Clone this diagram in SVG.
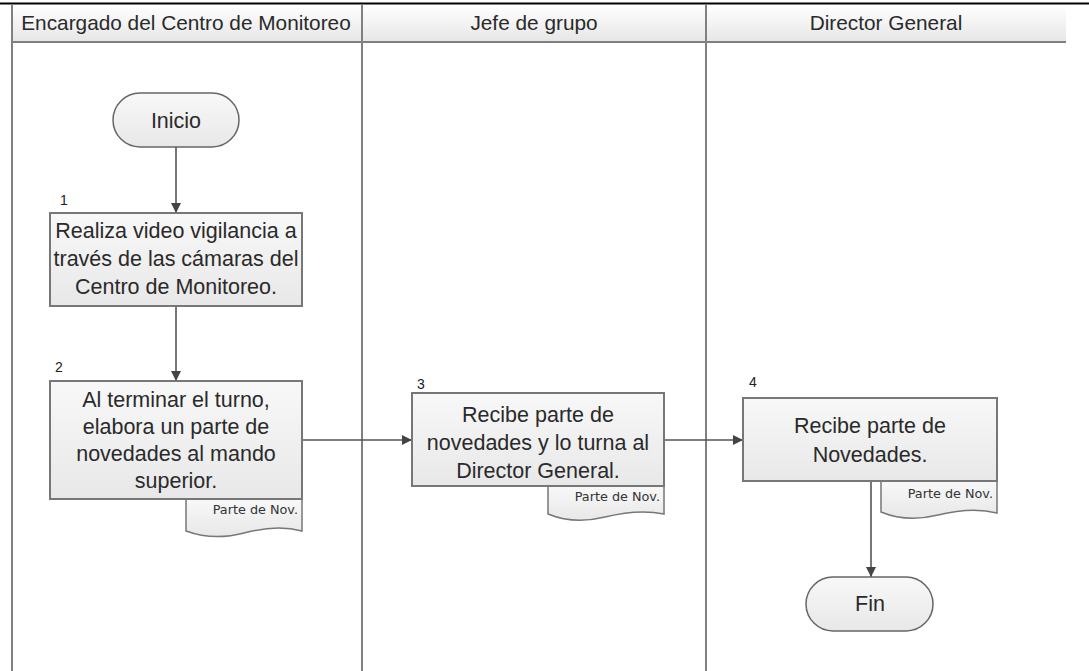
<svg xmlns="http://www.w3.org/2000/svg" width="1089" height="671" viewBox="0 0 1089 671">
<defs>
<linearGradient id="hdr" x1="0" y1="0" x2="0" y2="1"><stop offset="0" stop-color="#ffffff"/><stop offset="1" stop-color="#e6e6e6"/></linearGradient>
<linearGradient id="box" x1="0" y1="0" x2="0" y2="1"><stop offset="0" stop-color="#f8f8f8"/><stop offset="1" stop-color="#e8e8e8"/></linearGradient>
<marker id="arr" viewBox="0 0 10 10" refX="10" refY="5" markerWidth="10" markerHeight="10" markerUnits="userSpaceOnUse" orient="auto"><path d="M0,0 L10,5 L0,10 Z" fill="#444"/></marker>
</defs>
<style>
.lane{stroke:#808080;stroke-width:2;fill:none}
.hd{font-family:"Liberation Sans",Arial,sans-serif;font-size:20.8px;fill:#2a2a2a;text-anchor:middle}
.bx{fill:url(#box);stroke:#777;stroke-width:2}
.tm{fill:url(#box);stroke:#666;stroke-width:1.5}
.tx{font-family:"Liberation Sans",Arial,sans-serif;font-size:21.5px;fill:#2a2a2a;text-anchor:middle}
.num{font-family:"Liberation Sans",Arial,sans-serif;font-size:14px;fill:#222}
.doc{fill:url(#box);stroke:#777;stroke-width:1.5}
.dt{font-family:"DejaVu Sans",Verdana,sans-serif;font-size:12.8px;fill:#333;text-anchor:end}
.cn{stroke:#555;stroke-width:1.6;fill:none;marker-end:url(#arr)}
</style>
<rect x="0" y="0" width="1089" height="671" fill="#ffffff"/>
<g id="swimlanes">
<rect x="12" y="5" width="1054" height="37" fill="url(#hdr)"/>
<line x1="0" y1="3.5" x2="1089" y2="3.5" stroke="#000" stroke-width="2"/>
<line x1="12" y1="42" x2="1066" y2="42" class="lane"/>
<line x1="12" y1="4" x2="12" y2="671" class="lane"/>
<line x1="362" y1="4" x2="362" y2="671" class="lane"/>
<line x1="706" y1="4" x2="706" y2="671" class="lane"/>
<text x="186" y="30" class="hd">Encargado del Centro de Monitoreo</text>
<text x="534" y="30" class="hd">Jefe de grupo</text>
<text x="886" y="30" class="hd">Director General</text>
</g>
<g id="connectors">
<line x1="176" y1="147" x2="176" y2="213" class="cn"/>
<line x1="176" y1="307" x2="176" y2="381" class="cn"/>
<line x1="302" y1="440" x2="412" y2="440" class="cn"/>
<line x1="664" y1="440" x2="743" y2="440" class="cn"/>
<line x1="871" y1="481" x2="871" y2="577" class="cn"/>
</g>
<g id="inicio">
<rect x="113" y="93" width="126" height="54" rx="27" class="tm"/>
<text x="176" y="128" class="tx">Inicio</text>
</g>
<g id="step1">
<text x="60" y="205" class="num">1</text>
<rect x="50" y="213" width="252" height="93" class="bx"/>
<text x="176" y="238" class="tx">Realiza video vigilancia a</text>
<text x="176" y="266" class="tx">través de las cámaras del</text>
<text x="176" y="294" class="tx">Centro de Monitoreo.</text>
</g>
<g id="step2">
<text x="55" y="372" class="num">2</text>
<path d="M186,499 V531 C205,538 225,538 244,533 C263,528 283,526 302,531 V499 Z" class="doc"/>
<text x="298" y="514" class="dt">Parte de Nov.</text>
<rect x="50" y="381" width="252" height="118" class="bx"/>
<text x="176" y="407" class="tx">Al terminar el turno,</text>
<text x="176" y="434" class="tx">elabora un parte de</text>
<text x="176" y="461" class="tx">novedades al mando</text>
<text x="176" y="488" class="tx">superior.</text>
</g>
<g id="step3">
<text x="417" y="389" class="num">3</text>
<path d="M548,486 V514 C565,521 585,522 605,517 C625,512 645,510 664,514 V486 Z" class="doc"/>
<text x="660" y="501" class="dt">Parte de Nov.</text>
<rect x="412" y="393" width="252" height="93" class="bx"/>
<text x="538" y="422" class="tx">Recibe parte de</text>
<text x="538" y="450" class="tx">novedades y lo turna al</text>
<text x="538" y="478" class="tx">Director General.</text>
</g>
<g id="step4">
<text x="749" y="387" class="num">4</text>
<path d="M881,481 V512 C898,519 918,520 938,515 C958,510 978,508 997,513 V481 Z" class="doc"/>
<text x="993" y="498" class="dt">Parte de Nov.</text>
<rect x="743" y="398" width="254" height="83" class="bx"/>
<text x="870" y="433" class="tx">Recibe parte de</text>
<text x="870" y="462" class="tx">Novedades.</text>
</g>
<g id="fin">
<rect x="806" y="577" width="127" height="54" rx="27" class="tm"/>
<text x="870" y="611" class="tx">Fin</text>
</g>
</svg>
